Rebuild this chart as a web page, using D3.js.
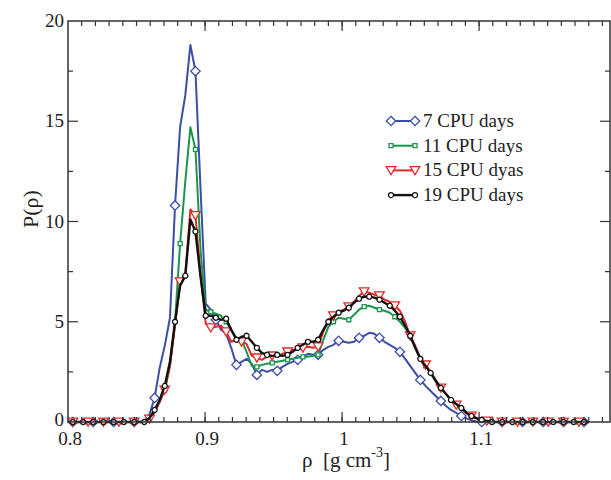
<!DOCTYPE html>
<html>
<head>
<meta charset="utf-8">
<script src="https://cdn.jsdelivr.net/npm/d3@7"></script>
<style>
  body { margin: 0; background: #fff; }
  text { font-family: "Liberation Serif", "DejaVu Serif", serif; fill: #222; }
</style>
</head>
<body>
<script>
// density grid (g cm^-3)
var rho = [
  0.8035, 0.8072, 0.8110, 0.8147, 0.8184, 0.8222, 0.8259, 0.8296, 0.8333, 0.8371,
  0.8408, 0.8445, 0.8483, 0.8520, 0.8557, 0.8595, 0.8632, 0.8669, 0.8706, 0.8744,
  0.8781, 0.8818, 0.8856, 0.8893, 0.8930, 0.8968, 0.9005, 0.9042, 0.9079, 0.9117,
  0.9154, 0.9191, 0.9229, 0.9266, 0.9303, 0.9341, 0.9378, 0.9415, 0.9452, 0.9490,
  0.9527, 0.9564, 0.9602, 0.9639, 0.9676, 0.9714, 0.9751, 0.9788, 0.9825, 0.9863,
  0.9900, 0.9937, 0.9975, 1.0012, 1.0049, 1.0087, 1.0124, 1.0161, 1.0198, 1.0236,
  1.0273, 1.0310, 1.0348, 1.0385, 1.0422, 1.0460, 1.0497, 1.0534, 1.0571, 1.0609,
  1.0646, 1.0683, 1.0721, 1.0758, 1.0795, 1.0833, 1.0870, 1.0907, 1.0944, 1.0982,
  1.1019, 1.1056, 1.1094, 1.1131, 1.1168, 1.1206, 1.1243, 1.1280, 1.1317, 1.1355,
  1.1392, 1.1429, 1.1467, 1.1504, 1.1541, 1.1579, 1.1616, 1.1653, 1.1690, 1.1728,
  1.1765, 1.1802
];

var p7 = [
  0, 0, 0, 0, 0, 0, 0, 0, 0, 0,
  0, 0, 0, 0, 0.05, 0.4, 1.2, 2.7, 3.8, 5.2,
  10.8, 14.7, 16.3, 18.8, 17.5, 11.5, 5.9, 5.6, 5.1, 4.6,
  4.4, 3.7, 2.85, 3.0, 3.15, 2.9, 2.35, 2.6, 2.5, 2.6,
  2.55, 2.75, 2.9, 3.0, 3.1, 3.25, 3.4, 3.35, 3.35, 3.6,
  3.75, 3.85, 4.05, 4.0, 3.95, 4.0, 4.2, 4.3, 4.45, 4.4,
  4.2, 4.0, 3.85, 3.7, 3.5, 3.15, 2.8, 2.45, 2.1, 1.8,
  1.55, 1.3, 1.05, 0.8, 0.6, 0.45, 0.3, 0.18, 0.08, 0.03,
  0, 0, 0, 0, 0, 0, 0, 0, 0, 0,
  0, 0, 0, 0, 0, 0, 0, 0, 0, 0,
  0, 0
];

var p11 = [
  0, 0, 0, 0, 0, 0, 0, 0, 0, 0,
  0, 0, 0, 0, 0, 0.15, 0.5, 1.0, 1.6, 2.8,
  5.0, 8.9, 12.0, 14.7, 13.6, 8.5, 5.6, 5.5, 5.4, 5.3,
  5.0, 4.6, 4.2, 4.1, 3.5, 2.8, 2.75, 2.85, 2.9, 2.95,
  3.0, 3.05, 3.1, 3.15, 3.2, 3.25, 3.25, 3.3, 3.35, 4.1,
  4.75, 5.0, 5.2, 5.15, 5.1, 5.35, 5.6, 5.75, 5.8, 5.7,
  5.6, 5.55, 5.45, 5.25, 5.0, 4.7, 4.3, 3.7, 3.15, 2.8,
  2.45, 2.05, 1.7, 1.4, 1.1, 0.9, 0.7, 0.45, 0.3, 0.18,
  0.1, 0.05, 0, 0, 0, 0, 0, 0, 0, 0,
  0, 0, 0, 0, 0, 0, 0, 0, 0, 0,
  0, 0
];

var p15 = [
  0, 0, 0, 0, 0, 0, 0, 0, 0, 0,
  0, 0, 0, 0, 0, 0.15, 0.5, 1.0, 1.6, 2.8,
  4.8, 7.0, 7.4, 10.6, 10.3, 7.3, 4.9, 4.7, 4.75, 4.8,
  4.5, 4.0, 4.1, 4.0, 3.9, 3.3, 3.2, 3.1, 3.25, 3.3,
  3.25, 3.4, 3.5, 3.6, 3.6, 3.7, 3.75, 3.7, 3.75, 4.5,
  5.1, 5.3, 5.5, 5.6, 5.75, 6.0, 6.3, 6.5, 6.45, 6.35,
  6.3, 6.1, 6.0, 5.8, 5.55, 5.0, 4.3, 3.8, 3.2, 2.85,
  2.5, 2.1, 1.7, 1.4, 1.1, 0.85, 0.75, 0.5, 0.3, 0.2,
  0.1, 0.05, 0, 0, 0, 0, 0, 0, 0, 0,
  0, 0, 0, 0, 0, 0, 0, 0, 0, 0,
  0, 0
];

var p19 = [
  0, 0, 0, 0, 0, 0, 0, 0, 0, 0,
  0, 0, 0, 0, 0, 0.2, 0.6, 1.1, 1.8, 3.0,
  5.0, 6.8, 7.3, 10.1, 9.5, 7.2, 5.3, 5.3, 5.2, 5.1,
  5.15, 4.6, 4.1, 4.25, 4.3, 4.0, 3.7, 3.45, 3.35, 3.3,
  3.35, 3.3, 3.35, 3.5, 3.7, 3.85, 4.0, 4.0, 4.1, 4.6,
  5.0, 5.25, 5.45, 5.55, 5.7, 5.95, 6.15, 6.25, 6.25, 6.2,
  6.1, 5.95, 5.8, 5.55, 5.25, 4.8, 4.3, 3.7, 3.15, 2.8,
  2.45, 2.05, 1.7, 1.4, 1.1, 0.9, 0.7, 0.45, 0.3, 0.18,
  0.1, 0.05, 0, 0, 0, 0, 0, 0, 0, 0,
  0, 0, 0, 0, 0, 0, 0, 0, 0, 0,
  0, 0
];

var seriesNames = ["7 CPU days", "11 CPU days", "15 CPU dyas", "19 CPU days"];
var xTicks = [0.8, 0.9, 1, 1.1];
var yTicks = [0, 5, 10, 15, 20];

var W = 611, H = 480,
    pLeft = 68, pRight = 610, pTop = 21, pBottom = 422;

var svg = d3.select("body").append("svg")
    .attr("width", W)
    .attr("height", H);

var x = d3.scaleLinear().domain([0.8, 1.1955]).range([pLeft, pRight]);
var y = d3.scaleLinear().domain([0, 20]).range([pBottom, pTop]);

// grace-like symbols
var diamond = {
  draw: function(ctx, size) {
    var r = Math.sqrt(size / 2);
    ctx.moveTo(0, -r); ctx.lineTo(r, 0); ctx.lineTo(0, r); ctx.lineTo(-r, 0);
    ctx.closePath();
  }
};
var triDown = {
  draw: function(ctx, size) {
    var s = Math.sqrt(size / 0.433) / 2;
    ctx.moveTo(-s, -s * 0.8);
    ctx.lineTo(s, -s * 0.8);
    ctx.lineTo(0, s * 0.9);
    ctx.closePath();
  }
};

// series styles: colour, symbol, size, skip, phase
var sets = [
  {name: seriesNames[0], vals: p7,  color: "#3b4ea6", sym: diamond,          size: 44, skip: 4, phase: 0, w: 2},
  {name: seriesNames[1], vals: p11, color: "#1d944c", sym: d3.symbolSquare,  size: 16, skip: 3, phase: 0, w: 2},
  {name: seriesNames[2], vals: p15, color: "#e02a2a", sym: triDown,          size: 40, skip: 3, phase: 0, w: 2},
  {name: seriesNames[3], vals: p19, color: "#111111", sym: d3.symbolCircle,  size: 20, skip: 2, phase: 0, w: 2.4}
];

function symPath(s) {
  return d3.symbol().type(s.sym).size(s.size)();
}

var line = d3.line()
    .x(function(d) { return x(d[0]); })
    .y(function(d) { return y(d[1]); });

var plot = svg.append("g");

sets.forEach(function(s) {
  var pts = rho.map(function(r, i) { return [r, s.vals[i]]; });
  plot.append("path")
      .attr("d", line(pts))
      .attr("fill", "none")
      .attr("stroke", s.color)
      .attr("stroke-width", s.w)
      .attr("stroke-linejoin", "round");

  plot.selectAll(null)
      .data(pts.filter(function(d, i) { return i % s.skip === s.phase; }))
      .enter()
      .append("path")
      .attr("d", symPath(s))
      .attr("transform", function(d) { return "translate(" + x(d[0]) + "," + y(d[1]) + ")"; })
      .attr("fill", "#fff")
      .attr("stroke", s.color)
      .attr("stroke-width", 1.3);
});

// frame
svg.append("rect")
    .attr("x", pLeft).attr("y", pTop)
    .attr("width", pRight - pLeft).attr("height", pBottom - pTop)
    .attr("fill", "none")
    .attr("stroke", "#333")
    .attr("stroke-width", 1.5);

// inward ticks on all four sides
var xMinor = d3.range(0.81, 1.195, 0.01);
var yMinor = d3.range(2.5, 20, 5);

function drawTicks(vals, len, horiz) {
  vals.forEach(function(v) {
    if (horiz) {
      var px = x(v);
      svg.append("line").attr("x1", px).attr("x2", px).attr("y1", pBottom).attr("y2", pBottom - len)
         .attr("stroke", "#333").attr("stroke-width", 1.2);
      svg.append("line").attr("x1", px).attr("x2", px).attr("y1", pTop).attr("y2", pTop + len)
         .attr("stroke", "#333").attr("stroke-width", 1.2);
    } else {
      var py = y(v);
      svg.append("line").attr("x1", pLeft).attr("x2", pLeft + len).attr("y1", py).attr("y2", py)
         .attr("stroke", "#333").attr("stroke-width", 1.2);
      svg.append("line").attr("x1", pRight).attr("x2", pRight - len).attr("y1", py).attr("y2", py)
         .attr("stroke", "#333").attr("stroke-width", 1.2);
    }
  });
}
drawTicks(xTicks.slice(1), 10, true);
drawTicks(xMinor, 5, true);
drawTicks(yTicks.slice(1, 4), 10, false);
drawTicks(yMinor, 5, false);

// tick labels
var fmt = d3.format("~g");
svg.selectAll(".xl").data(xTicks).enter().append("text")
    .attr("x", function(d) { return x(d) + 2; })
    .attr("y", 445)
    .attr("text-anchor", "middle")
    .style("font-size", "19px")
    .text(function(d) { return fmt(d); });

svg.selectAll(".yl").data(yTicks).enter().append("text")
    .attr("x", 64)
    .attr("y", function(d) { return y(d) + (d === 0 ? 4 : 6); })
    .attr("text-anchor", "end")
    .style("font-size", "19px")
    .text(function(d) { return fmt(d); });

// axis titles
var xt = svg.append("text")
    .attr("x", 346).attr("y", 467)
    .attr("text-anchor", "middle")
    .style("font-size", "21px");
xt.append("tspan").text("ρ\u00a0\u00a0[g cm");
xt.append("tspan").attr("dy", -10).style("font-size", "14px").text("-3");
xt.append("tspan").attr("dy", 10).text("]");

svg.append("text")
    .attr("transform", "translate(38,209) rotate(-90)")
    .attr("text-anchor", "middle")
    .style("font-size", "22px")
    .text("P(ρ)");

// legend
var legend = svg.append("g");
sets.forEach(function(s, i) {
  var ly = 121 + i * 24.7;
  legend.append("line")
      .attr("x1", 391).attr("x2", 415).attr("y1", ly).attr("y2", ly)
      .attr("stroke", s.color).attr("stroke-width", s.w);
  [391, 415].forEach(function(lx) {
    legend.append("path")
        .attr("d", symPath(s))
        .attr("transform", "translate(" + lx + "," + ly + ")")
        .attr("fill", "#fff")
        .attr("stroke", s.color)
        .attr("stroke-width", 1.3);
  });
  legend.append("text")
      .attr("x", 423).attr("y", ly + 6)
      .style("font-size", "19px")
      .text(s.name);
});
</script>
</body>
</html>
